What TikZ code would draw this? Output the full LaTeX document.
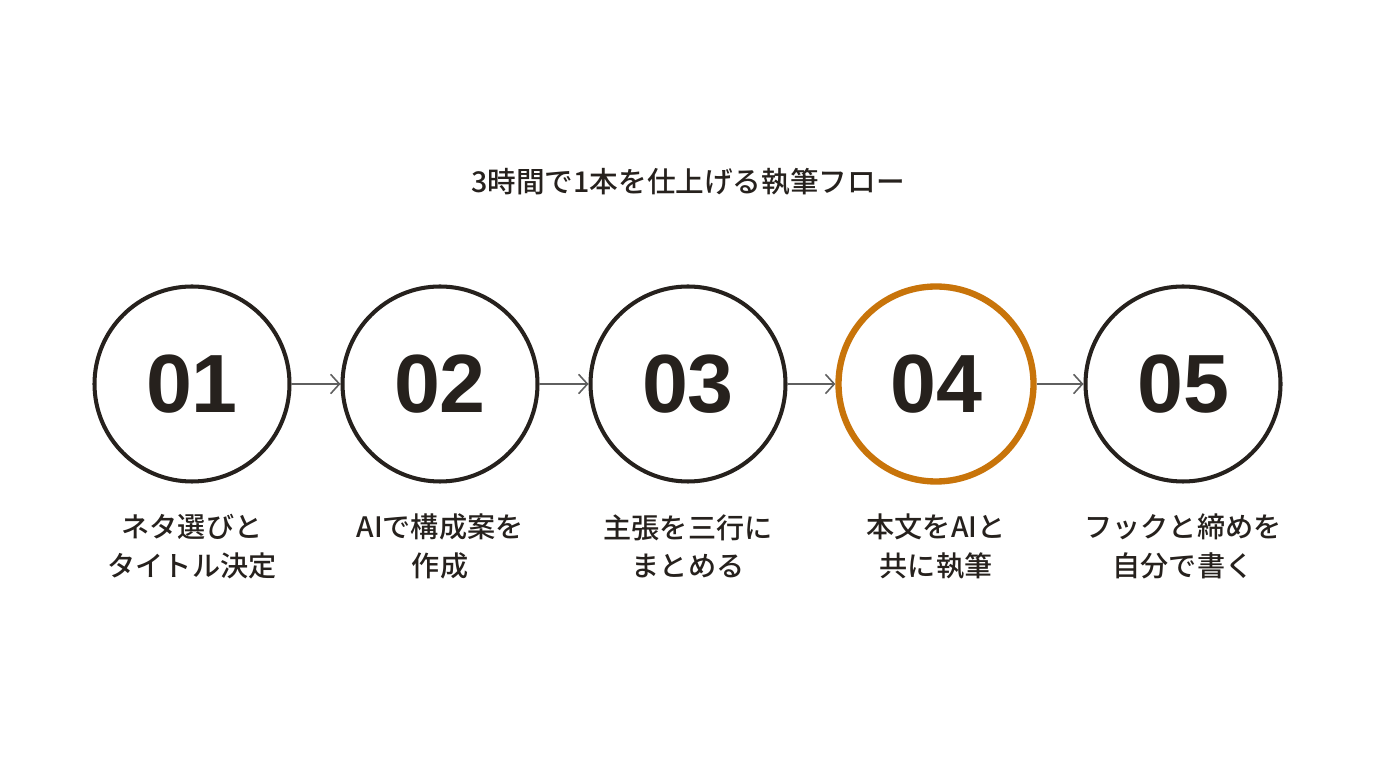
\documentclass[tikz,border=0pt]{standalone}
\usepackage{fontspec}
\setmainfont{Liberation Sans}
\newfontfamily\jpfont{Noto Sans CJK JP Medium}
\usepackage{tikz}
\usetikzlibrary{arrows.meta, calc}

\definecolor{inkdark}{RGB}{38,33,29}
\definecolor{arrowgray}{RGB}{95,95,95}
\definecolor{accentorange}{RGB}{200,116,10}

\tikzset{
    numcircle/.style={circle, draw=inkdark, line width=2.3pt, minimum size=3.9cm, inner sep=0pt,
        text=inkdark, font=\fontsize{47}{50}\selectfont\bfseries},
    hotcircle/.style={numcircle, draw=accentorange, line width=3.6pt},
    steplabel/.style={align=center, text=inkdark, font=\jpfont\fontsize{16}{22}\selectfont},
    flowarrow/.style={draw=arrowgray, line width=0.9pt, -{Straight Barb[length=5pt,width=11pt]}}
}

\begin{document}
\begin{tikzpicture}
            \useasboundingbox[fill=white] (0,0) rectangle (27.52,15.36);

            \node[text=inkdark, font=\jpfont\fontsize{16.3}{20}\selectfont] (title) at (13.76,11.72) {3時間で1本を仕上げる執筆フロー};

            \foreach \n/\x/\s in {1/3.84/numcircle, 2/8.80/numcircle, 3/13.76/numcircle, 4/18.72/hotcircle, 5/23.66/numcircle} {
                \node[\s] (c\n) at (\x,7.68) {0\n};
            }

            \foreach \n/\x/\t in {1/3.84/{ネタ選びと\\タイトル決定}, 2/8.80/{AIで構成案を\\作成}, 3/13.76/{主張を三行に\\まとめる}, 4/18.72/{本文をAIと\\共に執筆}, 5/23.66/{フックと締めを\\自分で書く}} {
                \node[steplabel] (t\n) at (\x,4.43) {\t};
            }

            \foreach \a\b in {1/2, 2/3, 3/4, 4/5} {
                \draw[flowarrow] (c\a) -- (c\b);
            }

        \end{tikzpicture}
\end{document}
